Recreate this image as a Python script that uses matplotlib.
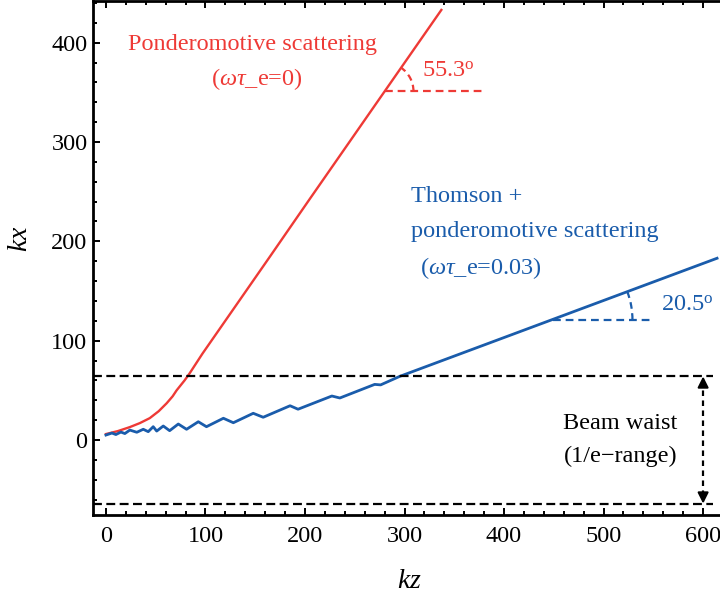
import numpy as np
import matplotlib
matplotlib.use('Agg')
import matplotlib.pyplot as plt
from matplotlib.patches import Arc

plt.rcParams['font.family'] = ['Liberation Serif', 'DejaVu Serif']
plt.rcParams['mathtext.fontset'] = 'custom'
plt.rcParams['mathtext.rm'] = 'Liberation Serif'
plt.rcParams['mathtext.it'] = 'Liberation Serif:italic'

# trajectories
red_kz = [0, 12, 24, 34, 44, 53, 61, 67, 71, 79, 84, 97, 131, 165, 205, 280, 337]
red_kx = [6, 9, 13, 17, 22, 29, 37, 44, 50, 60, 67, 87, 136, 185, 243, 351, 433]

blue_kz = [0, 6, 10, 15, 19, 24, 31, 37.5, 42.5, 47.5, 51, 57.6, 64, 72.7, 81, 92.8, 101,
           118, 128, 148, 158, 185, 193, 227, 235, 270, 276, 295, 614]
blue_kx = [5, 7, 5.5, 8, 6.5, 10, 7.8, 10.8, 8.4, 13.4, 9, 14.1, 9.4, 16.1, 10.8, 18.4, 13.4,
           21.9, 17.4, 26.9, 22.9, 34.5, 31, 44.3, 42.3, 56, 55.5, 64, 183]

waist = 64
red_angle, blue_angle = 55.3, 20.5
red_pivot = (280, 351)
blue_pivot = (449, 121)

red = '#EE3A36'
blue = '#1A5CAB'
fs = 17.5

fig = plt.figure(figsize=(7.2, 5.97), dpi=100)
ax = fig.add_axes([93 / 720, 82 / 597, 635 / 720, 514 / 597])

ax.plot(red_kz, red_kx, color=red, lw=1.7)
ax.plot(blue_kz, blue_kx, color=blue, lw=2.0)

# beam waist
ax.hlines([waist, -waist], -13, 610, colors='k', linestyles=(0, (4, 2)), lw=1.6)
ax.plot([600, 600], [-waist + 8, waist - 8], color='k', lw=1.6, ls=(0, (2.5, 2)))
for y0, y1 in [(waist - 10, waist), (-waist + 10, -waist)]:
    ax.annotate('', xy=(600, y1), xytext=(600, y0),
                arrowprops=dict(arrowstyle='-|>', color='k', lw=1.5, mutation_scale=16,
                                shrinkA=0, shrinkB=0))
ax.text(517, 17, 'Beam waist', ha='center', va='center', fontsize=fs)
ax.text(517, -17, '(1/e\u2212range)', ha='center', va='center', fontsize=fs)

# angle markers
for (px, py), ang, r, length, c in [(red_pivot, red_angle, 29, 101, red),
                                    (blue_pivot, blue_angle, 80, 101, blue)]:
    ax.plot([px, px + length], [py, py], color=c, lw=1.6, ls=(0, (3.5, 2.2)))
    ax.add_patch(Arc((px, py), 2 * r, 2 * r, theta1=0, theta2=ang, color=c, lw=1.6,
                     ls=(0, (3, 2))))
ax.text(318, 371, '%.1f$^{\\mathrm{o}}$' % red_angle, color=red, va='center', fontsize=fs)
ax.text(558, 136, '%.1f$^{\\mathrm{o}}$' % blue_angle, color=blue, va='center', fontsize=fs)

# labels for the curves
ax.text(147, 398, 'Ponderomotive scattering', color=red, ha='center', va='center', fontsize=fs)
ax.text(152, 363, '($\\omega\\tau$_e=0)', color=red, ha='center', va='center', fontsize=fs)
ax.text(307, 245, 'Thomson +', color=blue, va='center', fontsize=fs)
ax.text(307, 210, 'ponderomotive scattering', color=blue, va='center', fontsize=fs)
ax.text(316, 173, '($\\omega\\tau$_e=0.03)', color=blue, va='center', fontsize=fs)

ax.set_xlim(-13, 625)
ax.set_ylim(-75.5, 442)
ax.set_xticks(np.arange(0, 601, 100))
ax.set_yticks(np.arange(0, 401, 100))
ax.set_xticks(np.arange(-0, 621, 20), minor=True)
ax.set_yticks(np.arange(-60, 441, 20), minor=True)
ax.tick_params(which='both', direction='in', top=True, right=True, labelsize=fs, width=1.4)
ax.tick_params(which='major', length=5)
ax.tick_params(which='minor', length=3)
ax.tick_params(axis='x', pad=8)
ax.tick_params(axis='y', pad=4)
for s in ax.spines.values():
    s.set_linewidth(2)

ax.set_xlabel('$kz$', fontsize=20)
ax.set_ylabel('$kx$', fontsize=20)
ax.xaxis.set_label_coords(0.499, -0.105)
ax.yaxis.set_label_coords(-0.095, 0.537)

fig.savefig('out.png', dpi=100)
